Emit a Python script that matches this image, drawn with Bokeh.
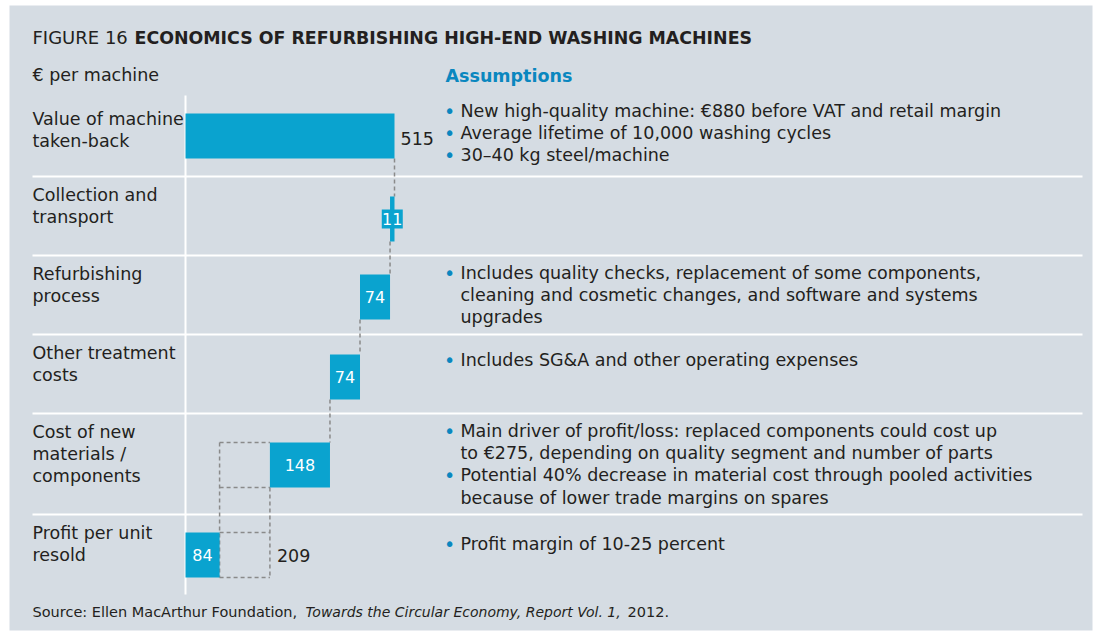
from bokeh.plotting import figure
from bokeh.models import Range1d
from bokeh.core.properties import value
from bokeh.embed import file_html
from bokeh.resources import INLINE

# ---------------- data ----------------
categories = ["Value of machine\ntaken-back", "Collection and\ntransport", "Refurbishing\nprocess",
              "Other treatment\ncosts", "Cost of new\nmaterials /\ncomponents", "Profit per unit\nresold"]
values = [515, 11, 74, 74, 148, 84]
kinds = ["total", "cost", "cost", "cost", "cost", "total"]
remaining_label = "209"
notes = [
    ["New high-quality machine: €880 before VAT and retail margin",
     "Average lifetime of 10,000 washing cycles",
     "30–40 kg steel/machine"],
    [],
    ["Includes quality checks, replacement of some components,\ncleaning and cosmetic changes, and software and systems\nupgrades"],
    ["Includes SG&A and other operating expenses"],
    ["Main driver of profit/loss: replaced components could cost up\nto €275, depending on quality segment and number of parts",
     "Potential 40% decrease in material cost through pooled activities\nbecause of lower trade margins on spares"],
    ["Profit margin of 10-25 percent"],
]
title_lead = "FIGURE 16 "
title_bold = "ECONOMICS OF REFURBISHING HIGH-END WASHING MACHINES"
unit_label = "€ per machine"
notes_title = "Assumptions"
source_parts = ["Source: Ellen MacArthur Foundation, ", "Towards the Circular Economy, Report Vol. 1,", "2012."]

# ---------------- layout / style ----------------
FONT = "DejaVu Sans"
PANEL = "#d5dce3"
TXT = "#231f20"
BAR = "#0aa3cf"
BLUE = "#0a87bf"
DASH = "#8a8a8a"
W, H = 1093, 631
axis_px = 185
px_per_eur = 209 / 515
row_tops = [100, 176, 255, 334, 413, 514]
bar_centers = [135.5, 218.5, 296.5, 376.5, 464.5, 554.5]
bar_h = 45
line_step = 22.4
note_first_y = [110, None, 272, 359, 430, 543]
FS = "17.5px"

# waterfall geometry from values
starts, ends = [], []
running = 0
for v, k in zip(values, kinds):
    if k == "total":
        starts.append(0); ends.append(v); running = v
    else:
        starts.append(running - v); ends.append(running); running -= v

p = figure(width=W, height=H, output_backend="svg", toolbar_location=None,
           x_range=Range1d(0, W), y_range=Range1d(H, 0),
           min_border=0, background_fill_color="white", border_fill_color="white",
           outline_line_color=None)
p.axis.visible = False
p.grid.visible = False
p.extra_x_ranges = {"eur": Range1d((0 - axis_px) / px_per_eur, (W - axis_px) / px_per_eur)}

# panel
p.quad(left=[9], right=[1092], bottom=[630], top=[5], fill_color=PANEL, line_color=None)

# separators and axis line
seps = row_tops[1:]
p.segment(x0=[32] * len(seps), x1=[1082] * len(seps), y0=seps, y1=seps, line_color="white", line_width=2)
p.segment(x0=[axis_px], x1=[axis_px], y0=[95], y1=[594], line_color="white", line_width=2)

# connectors
cx, cy0, cy1 = [], [], []
for i in range(4):
    x = ends[i] if kinds[i] == "total" else starts[i]
    cx.append(x); cy0.append(bar_centers[i] + bar_h / 2); cy1.append(bar_centers[i + 1] - bar_h / 2)
p.segment(x0=cx, x1=cx, y0=cy0, y1=cy1, x_range_name="eur", line_color=DASH, line_width=1.5, line_dash="4 3")

# dashed box between profit and materials
bx0, bx1 = ends[5], starts[4]
t4, b4 = bar_centers[4] - bar_h / 2, bar_centers[4] + bar_h / 2
t5, b5 = bar_centers[5] - bar_h / 2, bar_centers[5] + bar_h / 2
hy = [t4, b4, t5, b5]
p.segment(x0=[bx0] * 4, x1=[bx1] * 4, y0=hy, y1=hy, x_range_name="eur",
          line_color=DASH, line_width=1.5, line_dash="4 3")
p.segment(x0=[bx0, bx1], x1=[bx0, bx1], y0=[t4, b4], y1=[b5, b5], x_range_name="eur",
          line_color=DASH, line_width=1.5, line_dash="4 3")

# bars
p.hbar(y=bar_centers, left=starts, right=ends, height=bar_h, x_range_name="eur",
       fill_color=BAR, line_color=None)

# inside labels
in_x, in_y, in_t = [], [], []
for i in range(1, 6):
    in_x.append((starts[i] + ends[i]) / 2); in_y.append(bar_centers[i]); in_t.append(str(values[i]))
p.rect(x=[in_x[0]], y=[in_y[0]], width=21, height=19, width_units="screen", height_units="screen",
       x_range_name="eur", fill_color=BAR, line_color=None)
p.text(x=in_x, y=in_y, text=in_t, x_range_name="eur", text_color="white",
       text_font=value(FONT), text_font_size="16px", text_align="center", text_baseline="middle")

# outside labels
p.text(x=[ends[0]], y=[bar_centers[0] + 2], text=[str(values[0])], x_offset=6, x_range_name="eur",
       text_color=TXT, text_font=value(FONT), text_font_size=FS, text_baseline="middle")
p.text(x=[bx1], y=[bar_centers[5]], text=[remaining_label], x_offset=7, x_range_name="eur",
       text_color=TXT, text_font=value(FONT), text_font_size=FS, text_baseline="middle")

# category labels
lx, ly, lt = [], [], []
for top, cat in zip(row_tops, categories):
    for k, line in enumerate(cat.split("\n")):
        lx.append(32); ly.append(top + 18 + k * line_step); lt.append(line)
p.text(x=lx, y=ly, text=lt, text_color=TXT, text_font=value(FONT), text_font_size=FS,
       text_baseline="middle")

# notes
nx, ny, nt, bxs, bys = [], [], [], [], []
for y0, items in zip(note_first_y, notes):
    if y0 is None:
        continue
    y = y0
    for item in items:
        bxs.append(449); bys.append(y)
        for line in item.split("\n"):
            nx.append(460); ny.append(y); nt.append(line)
            y += line_step
p.text(x=bxs, y=bys, text=["•"] * len(bxs), text_color=BLUE, text_font=value(FONT),
       text_font_size="19px", text_align="center", text_baseline="middle")
p.text(x=nx, y=ny, text=nt, text_color=TXT, text_font=value(FONT), text_font_size=FS,
       text_baseline="middle")

# titles
p.text(x=[32], y=[37], text=[title_lead], text_color=TXT, text_font=value(FONT),
       text_font_size="18px", text_baseline="middle")
p.text(x=[134], y=[37], text=[title_bold], text_color=TXT, text_font=value(FONT),
       text_font_size="17.4px", text_font_style="bold", text_baseline="middle")
p.text(x=[32], y=[74], text=[unit_label], text_color=TXT, text_font=value(FONT),
       text_font_size=FS, text_baseline="middle")
p.text(x=[445], y=[75], text=[notes_title], text_color=BLUE, text_font=value(FONT),
       text_font_size=FS, text_font_style="bold", text_baseline="middle")

# source
p.text(x=[32], y=[611], text=[source_parts[0]], text_color=TXT, text_font=value(FONT),
       text_font_size="14.5px", text_baseline="middle")
p.text(x=[305], y=[611], text=[source_parts[1]], text_color=TXT, text_font=value(FONT),
       text_font_size="14px", text_font_style="italic", text_baseline="middle")
p.text(x=[627], y=[611], text=[source_parts[2]], text_color=TXT, text_font=value(FONT),
       text_font_size="14.5px", text_baseline="middle")

open("out.html", "w").write(file_html(p, INLINE))
